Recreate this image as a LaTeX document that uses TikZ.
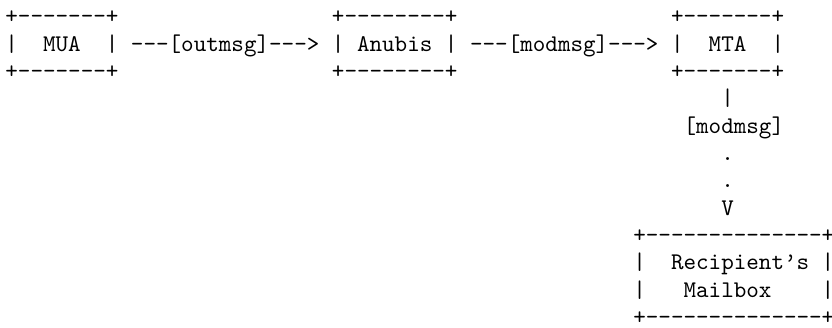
\documentclass[tikz,border=0pt]{standalone}
\usepackage{fontspec}
\tikzset{tt/.style={inner sep=0pt, outer sep=0pt, anchor=base west, font=\ttfamily}}
\def\h{-\kern0pt}
\newcommand\place[4]{\node[tt] (#1) at ({2.26pt+(#2)*5.25pt},{-9.9pt-(#3)*11.43pt}) {#4};}
\begin{document}
\begin{tikzpicture}
\useasboundingbox (0,0) rectangle (347.8pt,-137.1pt);
% MUA box
\place{muatop}{0}{0}{+\h\h\h\h\h\h\h+}
\place{mual}{0}{1}{|}
\place{mua}{3}{1}{MUA}
\place{muar}{8}{1}{|}
\place{muabot}{0}{2}{+\h\h\h\h\h\h\h+}
% arrow 1
\place{arrowa}{10}{1}{\h\h\h[outmsg]\h\h\h>}
% Anubis box
\place{anubistop}{26}{0}{+\h\h\h\h\h\h\h\h+}
\place{anubisl}{26}{1}{|}
\place{anubis}{28}{1}{Anubis}
\place{anubisr}{35}{1}{|}
\place{anubisbot}{26}{2}{+\h\h\h\h\h\h\h\h+}
% arrow 2
\place{arrowb}{37}{1}{\h\h\h[modmsg]\h\h\h>}
% MTA box
\place{mtatop}{53}{0}{+\h\h\h\h\h\h\h+}
\place{mtal}{53}{1}{|}
\place{mta}{56}{1}{MTA}
\place{mtar}{61}{1}{|}
\place{mtabot}{53}{2}{+\h\h\h\h\h\h\h+}
% vertical arrow
\place{vbar}{57}{3}{|}
\place{vlabel}{54}{4}{[modmsg]}
\place{dota}{57}{5}{.}
\place{dotb}{57}{6}{.}
\place{vhead}{57}{7}{V}
% Recipient box
\place{rtop}{50}{8}{+\h\h\h\h\h\h\h\h\h\h\h\h\h\h+}
\place{rla}{50}{9}{|}
\place{rtexta}{53}{9}{Recipient’s}
\place{rra}{65}{9}{|}
\place{rlb}{50}{10}{|}
\place{rtextb}{54}{10}{Mailbox}
\place{rrb}{65}{10}{|}
\place{rbot}{50}{11}{+\h\h\h\h\h\h\h\h\h\h\h\h\h\h+}
\end{tikzpicture}
\end{document}
